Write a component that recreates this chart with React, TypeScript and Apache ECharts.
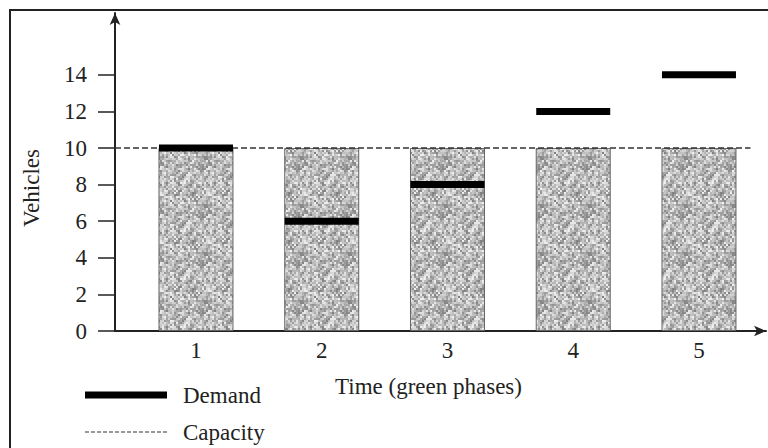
import React, { useEffect, useRef } from 'react';
import * as echarts from 'echarts';

const phases = [1, 2, 3, 4, 5];
const capacity = [10, 10, 10, 10, 10];
const demand = [10, 6, 8, 12, 14];
const yTicks = [0, 2, 4, 6, 8, 10, 12, 14];
const capacityLevel = 10;
const xMin = 0.356;
const xMax = 5.533;
const capacityLineEnd = 5.41;
const yMax = 17.38;

const FONT = '"Liberation Serif", "Times New Roman", serif';

function makeTexture(): HTMLCanvasElement {
  const size = 48;
  const c = document.createElement('canvas');
  c.width = size;
  c.height = size;
  const ctx = c.getContext('2d')!;
  ctx.fillStyle = '#a9a9a9';
  ctx.fillRect(0, 0, size, size);
  for (let y = 0; y < size; y += 2) {
    for (let x = 0; x < size; x += 2) {
      const s = Math.sin(x * 12.9898 + y * 78.233) * 43758.5453;
      const h = s - Math.floor(s);
      const g = Math.round(130 + h * 110);
      ctx.fillStyle = `rgb(${g},${g},${g})`;
      ctx.fillRect(x, y, 2, 2);
    }
  }
  return c;
}

export default function App() {
  const ref = useRef<HTMLDivElement>(null);
  useEffect(() => {
    if (!ref.current) return;
    const tex = makeTexture();
    const chart = echarts.init(ref.current, null, { renderer: 'svg' });
    chart.setOption({
      animation: false,
      backgroundColor: '#fff',
      grid: { left: 115, right: 2, top: 13, bottom: 117, containLabel: false },
      xAxis: {
        type: 'value',
        min: xMin,
        max: xMax,
        name: 'Time (green phases)',
        nameLocation: 'middle',
        nameGap: 44,
        nameTextStyle: { fontFamily: FONT, fontSize: 23, color: '#222', padding: [0, 24, 0, 0] },
        axisLine: {
          show: true,
          symbol: ['none', 'arrow'],
          symbolSize: [8, 12],
          lineStyle: { color: '#222', width: 2 },
        },
        axisTick: { show: false },
        splitLine: { show: false },
        axisLabel: {
          customValues: phases,
          formatter: (v: number) => String(v),
          fontFamily: FONT,
          fontSize: 23,
          color: '#222',
          margin: 8,
        },
      },
      yAxis: {
        type: 'value',
        min: 0,
        max: yMax,
        name: 'Vehicles',
        nameLocation: 'middle',
        nameGap: 72,
        nameTextStyle: { fontFamily: FONT, fontSize: 23, color: '#222', padding: [0, 32, 0, 0] },
        axisLine: {
          show: true,
          symbol: ['none', 'arrow'],
          symbolSize: [8, 12],
          lineStyle: { color: '#222', width: 2 },
        },
        axisTick: {
          show: true,
          customValues: yTicks,
          length: 17,
          lineStyle: { color: '#222', width: 1.5 },
        },
        splitLine: { show: false },
        axisLabel: {
          customValues: yTicks,
          formatter: (v: number) => String(v),
          fontFamily: FONT,
          fontSize: 23,
          color: '#222',
          margin: 28,
        },
      },
      series: [
        {
          type: 'bar',
          name: 'Capacity used',
          data: phases.map((p, i) => [p, capacity[i]]),
          barWidth: 75,
          itemStyle: {
            color: { image: tex, repeat: 'repeat', imageWidth: 48, imageHeight: 48 } as any,
            borderColor: '#666',
            borderWidth: 1,
          },
          z: 2,
        },
        {
          type: 'line',
          name: 'Capacity',
          data: [[xMin, capacityLevel], [capacityLineEnd, capacityLevel]],
          symbol: 'none',
          lineStyle: { color: '#333', width: 1.5, type: [6, 3] },
          z: 3,
        },
        {
          type: 'scatter',
          name: 'Demand',
          data: phases.map((p, i) => [p, demand[i]]),
          symbol: 'rect',
          symbolSize: [74, 7],
          itemStyle: { color: '#000', opacity: 1 },
          z: 4,
        },
      ],
      graphic: [
        {
          type: 'rect',
          shape: { x: 10, y: 10, width: 800, height: 500 },
          style: { fill: 'none', stroke: '#222', lineWidth: 2 },
          silent: true,
        },
        {
          type: 'line',
          shape: { x1: 85, y1: 395, x2: 167, y2: 395 },
          style: { stroke: '#000', lineWidth: 7 },
        },
        {
          type: 'text',
          x: 183,
          y: 395,
          style: { text: 'Demand', font: `23px ${FONT}`, fill: '#222', verticalAlign: 'middle', align: 'left' },
        },
        {
          type: 'line',
          shape: { x1: 85, y1: 432, x2: 167, y2: 432 },
          style: { stroke: '#333', lineWidth: 1.2, lineDash: [4, 2] },
        },
        {
          type: 'text',
          x: 183,
          y: 432,
          style: { text: 'Capacity', font: `23px ${FONT}`, fill: '#222', verticalAlign: 'middle', align: 'left' },
        },
      ],
    });
    return () => chart.dispose();
  }, []);
  return <div ref={ref} style={{ position: 'absolute', left: 0, top: 0, width: 768, height: 448 }} />;
}
